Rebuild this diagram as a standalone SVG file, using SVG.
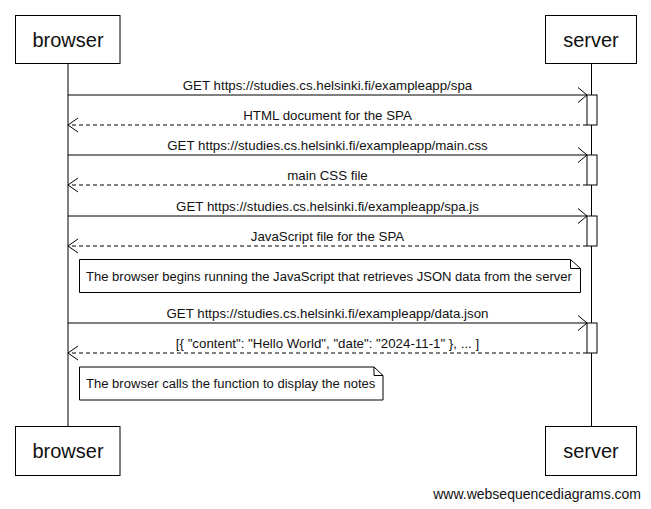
<svg xmlns="http://www.w3.org/2000/svg" width="651" height="509" viewBox="0 0 651 509">
<style>
.box{fill:#fff;stroke:#000;stroke-width:1}
.life{stroke:#000;stroke-width:1;fill:none}
.t{font-family:"Liberation Sans",Arial,sans-serif;fill:#111}
.actor{font-size:20px;text-anchor:middle}
.lbl{font-size:13.3px;text-anchor:middle}
.note{font-size:13.05px}
.msg{stroke:#000;stroke-width:1;fill:none}
.ret{stroke:#000;stroke-width:1;fill:none;stroke-dasharray:4,3}
.head{stroke:#000;stroke-width:1;fill:none}
.act{fill:#fff;stroke:#000;stroke-width:1}
</style>
<rect width="651" height="509" fill="#fff"/>
<g id="lifelines">
<line class="life" x1="68" y1="63.5" x2="68" y2="426.5"/>
<line class="life" x1="591.5" y1="63.5" x2="591.5" y2="426.5"/>
</g>
<g id="browser">
<rect class="box" x="15.5" y="15.5" width="104.5" height="48"/>
<text class="t actor" x="68" y="47">browser</text>
<rect class="box" x="15.5" y="426.5" width="104.5" height="49"/>
<text class="t actor" x="68" y="458">browser</text>
</g>
<g id="server">
<rect class="box" x="545.5" y="15.5" width="91" height="48"/>
<text class="t actor" x="591" y="47">server</text>
<rect class="box" x="545.5" y="426.5" width="91" height="49"/>
<text class="t actor" x="591" y="458">server</text>
</g>
<g id="connectors">
<line class="msg" x1="68" y1="95" x2="587" y2="95"/>
<path class="head" d="M578,87.5 L587,95 L578,102.5"/>
<text class="t lbl" x="327.5" y="90">GET https://studies.cs.helsinki.fi/exampleapp/spa</text>
<line class="ret" x1="587" y1="125" x2="68" y2="125"/>
<path class="head" d="M78,118 L68,125 L78,132"/>
<text class="t lbl" x="327.5" y="120">HTML document for the SPA</text>

<line class="msg" x1="68" y1="155" x2="587" y2="155"/>
<path class="head" d="M578,147.5 L587,155 L578,162.5"/>
<text class="t lbl" x="327.5" y="150">GET https://studies.cs.helsinki.fi/exampleapp/main.css</text>
<line class="ret" x1="587" y1="185" x2="68" y2="185"/>
<path class="head" d="M78,178 L68,185 L78,192"/>
<text class="t lbl" x="327.5" y="180">main CSS file</text>

<line class="msg" x1="68" y1="216" x2="587" y2="216"/>
<path class="head" d="M578,208.5 L587,216 L578,223.5"/>
<text class="t lbl" x="327.5" y="211">GET https://studies.cs.helsinki.fi/exampleapp/spa.js</text>
<line class="ret" x1="587" y1="246" x2="68" y2="246"/>
<path class="head" d="M78,239 L68,246 L78,253"/>
<text class="t lbl" x="327.5" y="241">JavaScript file for the SPA</text>

<line class="msg" x1="68" y1="323" x2="587" y2="323"/>
<path class="head" d="M578,315.5 L587,323 L578,330.5"/>
<text class="t lbl" x="327.5" y="318">GET https://studies.cs.helsinki.fi/exampleapp/data.json</text>
<line class="ret" x1="587" y1="353" x2="68" y2="353"/>
<path class="head" d="M78,346 L68,353 L78,360"/>
<text class="t lbl" x="327.5" y="348">[{ "content": "Hello World", "date": "2024-11-1" }, ... ]</text>
</g>
<g id="activations">
<rect class="act" x="587" y="95" width="10" height="30"/>
<rect class="act" x="587" y="155" width="10" height="30"/>
<rect class="act" x="587" y="216" width="10" height="30"/>
<rect class="act" x="587" y="323" width="10" height="30"/>
</g>
<g id="note1">
<path class="box" d="M79.5,259.5 H570.5 L580.5,268.5 V292.5 H79.5 Z"/>
<path class="head" d="M570.5,259.5 V268.5 H580.5"/>
<text class="t note" x="86" y="281">The browser begins running the JavaScript that retrieves JSON data from the server</text>
</g>
<g id="note2">
<path class="box" d="M79.5,367 H374 L383,375.5 V400 H79.5 Z"/>
<path class="head" d="M374,367 V375.5 H383"/>
<text class="t note" x="86" y="388">The browser calls the function to display the notes</text>
</g>
<text class="t" x="641" y="499" font-size="14" text-anchor="end">www.websequencediagrams.com</text>
</svg>
